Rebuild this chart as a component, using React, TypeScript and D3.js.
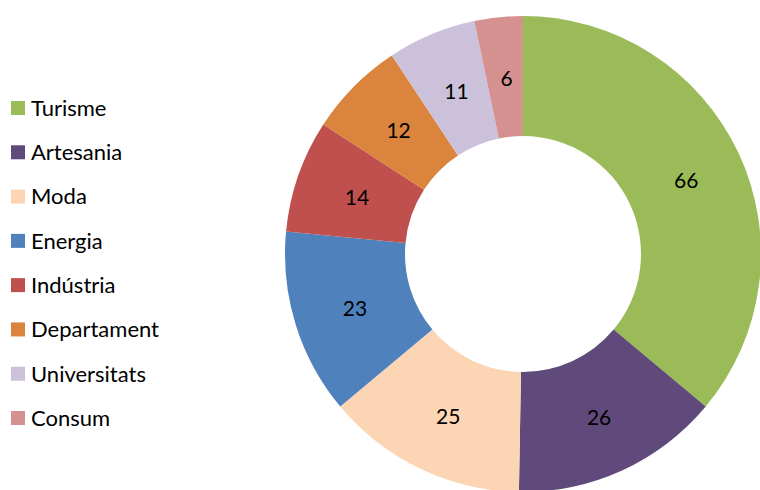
import React from "react";
import * as d3 from "d3";

const categories = ["Turisme", "Artesania", "Moda", "Energia", "Indústria", "Departament", "Universitats", "Consum"];
const values = [66, 26, 25, 23, 14, 12, 11, 6];
const colors = ["#9BBB59", "#604A7B", "#FCD5B5", "#4F81BD", "#C0504D", "#DB843D", "#CCC1DA", "#D4918F"];

const W = 760, H = 490;
const cx = 523, cy = 254, R = 238, r = 118;
const font = "Lato, 'Open Sans', sans-serif";

export default function App() {
  const data = categories.map((c, i) => ({ c, v: values[i], col: colors[i] }));
  const pie = d3.pie<any>().value((d: any) => d.v).sort(null);
  const arcs = pie(data);
  const arc = d3.arc<any>().innerRadius(r).outerRadius(R);
  const labelArc = d3.arc<any>().innerRadius((r + R) / 2).outerRadius((r + R) / 2);
  const ly = d3.scalePoint<string>().domain(categories).range([108, 418]);
  return (
    <svg width={W} height={H} style={{ position: "absolute", left: 0, top: 0, display: "block" }}>
      <rect width={W} height={H} fill="#fff" />
      <g transform={`translate(${cx},${cy})`}>
        {arcs.map((a, i) => (
          <path key={i} d={arc(a) as string} fill={a.data.col} />
        ))}
        {arcs.map((a, i) => {
          const [x, y] = labelArc.centroid(a);
          return (
            <text key={i} x={x + 2} y={y + 1.5} dy="0.36em" textAnchor="middle" fontFamily={font} fontSize={21} fill="#000">
              {a.data.v}
            </text>
          );
        })}
      </g>
      {categories.map((c, i) => (
        <g key={c} transform={`translate(0,${ly(c)})`}>
          <rect x={11} y={-7} width={14} height={14} fill={colors[i]} />
          <text x={31} y={0} dy="0.36em" fontFamily={font} fontSize={22} fill="#000">{c}</text>
        </g>
      ))}
    </svg>
  );
}
